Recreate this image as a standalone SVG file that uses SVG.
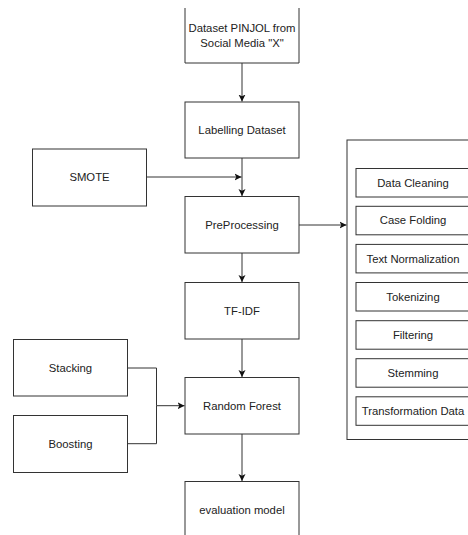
<svg xmlns="http://www.w3.org/2000/svg" width="468" height="535" viewBox="0 0 468 535">
<style>
.box{fill:#fff;stroke:#333;stroke-width:1}
.t{font-family:"Liberation Sans",Arial,sans-serif;font-size:11.3px;fill:#222;text-anchor:middle}
.c{fill:none;stroke:#333;stroke-width:1}
</style>
<defs>
<marker id="ah" markerUnits="userSpaceOnUse" markerWidth="8" markerHeight="8" refX="7" refY="4" orient="auto">
<path d="M0,0.5 L7,4 L0,7.5 L1.8,4 z" fill="#111"/>
</marker>
</defs>
<rect width="468" height="535" fill="#fff"/>
<g id="dataset">
<rect x="185" y="8" width="114" height="55" fill="#fff"/>
<path class="c" d="M185,8 V63 H299 V8"/>
<text class="t" x="242" y="32.3">Dataset PINJOL from</text>
<text class="t" x="242" y="46.7">Social Media "X"</text>
</g>
<g id="labelling">
<rect class="box" x="185" y="102" width="114" height="56"/>
<text class="t" x="242" y="134">Labelling Dataset</text>
</g>
<g id="smote">
<rect class="box" x="32.5" y="149" width="114" height="57"/>
<text class="t" x="89.5" y="181">SMOTE</text>
</g>
<g id="preprocessing">
<rect class="box" x="185" y="196.5" width="114" height="56.5"/>
<text class="t" x="242" y="228.5">PreProcessing</text>
</g>
<g id="tfidf">
<rect class="box" x="185" y="282.5" width="114" height="56.5"/>
<text class="t" x="242" y="314.7">TF-IDF</text>
</g>
<g id="stacking">
<rect class="box" x="13.5" y="339.5" width="114" height="56.5"/>
<text class="t" x="70.5" y="371.7">Stacking</text>
</g>
<g id="randomforest">
<rect class="box" x="185" y="377.5" width="114" height="56.5"/>
<text class="t" x="242" y="409.7">Random Forest</text>
</g>
<g id="boosting">
<rect class="box" x="13.5" y="415.5" width="114" height="57"/>
<text class="t" x="70.5" y="447.5">Boosting</text>
</g>
<g id="evaluation">
<rect class="box" x="185" y="481.5" width="114" height="70"/>
<text class="t" x="242" y="514">evaluation model</text>
</g>
<g id="preprocessing-steps">
<rect class="box" x="347" y="140" width="140" height="299.5"/>
<g id="datacleaning">
<rect class="box" x="356" y="168.5" width="116" height="28.5"/>
<text class="t" x="413" y="186.5">Data Cleaning</text>
</g>
<g id="casefolding">
<rect class="box" x="356" y="206.3" width="116" height="28.5"/>
<text class="t" x="413" y="224.3">Case Folding</text>
</g>
<g id="textnormalization">
<rect class="box" x="356" y="244.4" width="116" height="28.5"/>
<text class="t" x="413" y="262.5">Text Normalization</text>
</g>
<g id="tokenizing">
<rect class="box" x="356" y="282.5" width="116" height="28.5"/>
<text class="t" x="413" y="300.7">Tokenizing</text>
</g>
<g id="filtering">
<rect class="box" x="356" y="320.7" width="116" height="28.5"/>
<text class="t" x="413" y="339">Filtering</text>
</g>
<g id="stemming">
<rect class="box" x="356" y="358.7" width="116" height="28.5"/>
<text class="t" x="413" y="376.8">Stemming</text>
</g>
<g id="transformation">
<rect class="box" x="356" y="396.8" width="116" height="28.5"/>
<text class="t" x="413" y="415">Transformation Data</text>
</g>
</g>
<g id="connectors">
<path class="c" d="M242,63 V101.5" marker-end="url(#ah)"/>
<path class="c" d="M242,158 V196" marker-end="url(#ah)"/>
<path class="c" d="M146.5,177 H241.5" marker-end="url(#ah)"/>
<path class="c" d="M299,225 H346.5" marker-end="url(#ah)"/>
<path class="c" d="M242,253 V282" marker-end="url(#ah)"/>
<path class="c" d="M242,339 V377" marker-end="url(#ah)"/>
<path class="c" d="M127.5,368 H156.5 V405.7 H184.5" marker-end="url(#ah)"/>
<path class="c" d="M127.5,443.7 H156.5 V405.7"/>
<path class="c" d="M242,434 V481" marker-end="url(#ah)"/>
</g>
</svg>
